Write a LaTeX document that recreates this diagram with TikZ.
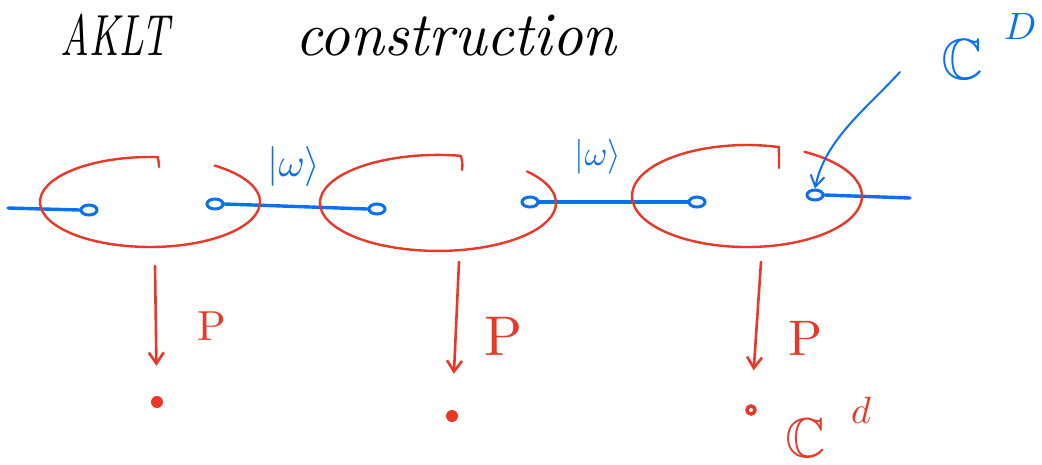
\documentclass[tikz,border=0pt]{standalone}
\usepackage{amssymb}
\usetikzlibrary{arrows.meta,shapes.geometric}
\definecolor{inkblue}{RGB}{10,112,240}
\definecolor{inkred}{RGB}{232,56,40}
\tikzset{
  site/.style={ellipse, draw=inkblue, line width=3pt, minimum width=16pt, minimum height=10pt, inner sep=0pt},
  bond/.style={inkblue, line width=3.4pt, line cap=round},
  shell/.style={inkred, line width=2.4pt, line cap=round},
  proj/.style={inkred, line width=2.6pt, line cap=round, -{Straight Barb[length=11pt,width=15pt,line width=2.6pt]}},
  pointer/.style={inkblue, line width=2pt, line cap=round, -{Straight Barb[length=11pt,width=14pt,line width=2pt]}},
  phys/.style={circle, fill=inkred, inner sep=0pt, minimum size=12pt},
  redlabel/.style={inkred, inner sep=0pt, transform shape},
  bluelabel/.style={inkblue, inner sep=0pt, transform shape},
  titletext/.style={black, inner sep=0pt, font=\itshape, transform shape}
}
\begin{document}
\begin{tikzpicture}[x=1pt,y=-1pt]
\useasboundingbox (0,0) rectangle (1042,464);

% title
\node[titletext, xscale=3.9, yscale=5.8] (akl) at (115,35) {AKLT};
\node[titletext, xscale=6, yscale=6.2] (cons) at (456,36) {construction};

% virtual spins (two per site)
\node[site] (a1) at (89,210) {};
\node[site] (b1) at (215,204) {};
\node[site] (a2) at (377,209) {};
\node[site] (b2) at (530,202) {};
\node[site] (a3) at (697,202) {};
\node[site] (b3) at (815,195) {};
\coordinate (lend) at (8,208);
\coordinate (rend) at (910,198);

% bonds
\draw[bond] (lend) -- (a1.west);
\draw[bond] (b1.east) -- (a2.west);
\draw[bond] (b2.east) -- (a3.west);
\draw[bond] (b3.east) -- (rend);

% bond labels
\node[bluelabel, scale=4] (w1) at (294,166) {$|\omega\rangle$};
\node[bluelabel, scale=3.5] (w2) at (598,157) {$|\omega\rangle$};

% site shells (open at the upper right, with a small hook)
\draw[shell] (159,167) .. controls (159,162) and (158,159) .. (157.7,157.1)
  arc[start angle=-86, end angle=-414, x radius=110, y radius=45];
\draw[shell] (462,170) .. controls (463,164) and (462,158) .. (460.5,155.8)
  arc[start angle=-79, end angle=-401, x radius=118, y radius=48];
\draw[shell] (779,168) .. controls (779,158) and (779,150) .. (778.7,147)
  arc[start angle=-74, end angle=-420, x radius=115, y radius=51];

% local Hilbert space pointer
\coordinate (ptail) at (900,72);
\draw[pointer] (ptail) .. controls (865,110) and (825,140) .. (b3.north);
\node[bluelabel, scale=5.8] (cD) at (962,60) {$\mathbb{C}$};
\node[bluelabel, scale=3.8] (D) at (1020,27) {$D$};

% projections to the physical spins
\coordinate (t1) at (155,266);
\coordinate (t2) at (459,262);
\coordinate (t3) at (761,262);
\node[phys] (p1) at (157,402) {};
\node[phys] (p2) at (452,416) {};
\node[circle, draw=inkred, line width=3.5pt, inner sep=0pt, minimum size=8pt] (p3) at (751,410) {};
\draw[proj, shorten >=30pt] (t1) -- (p1);
\draw[proj, shorten >=36pt] (t2) -- (p2);
\draw[proj, shorten >=34pt] (t3) -- (p3);
\node[redlabel, scale=4.2] (P1) at (212,326) {P};
\node[redlabel, scale=5.6] (P2) at (504,336) {P};
\node[redlabel, scale=5] (P3) at (806,338) {P};
\node[redlabel, scale=5.6] (cd) at (806,438) {$\mathbb{C}$};
\node[redlabel, scale=3.8] (d) at (861,410) {$d$};
\end{tikzpicture}
\end{document}
